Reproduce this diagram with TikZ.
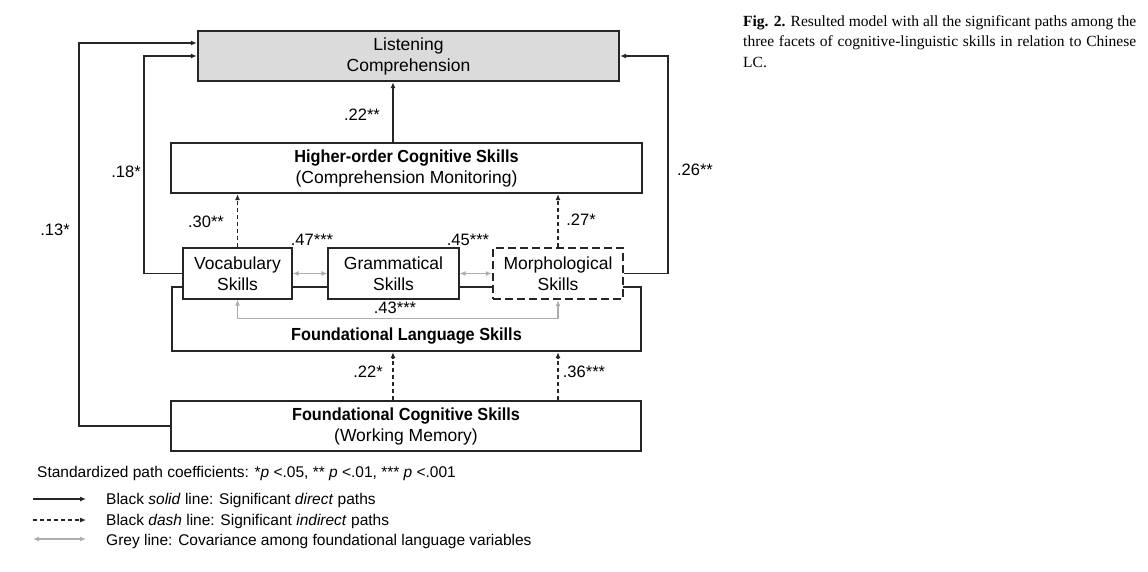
\documentclass[tikz,border=0pt]{standalone}
\usepackage{fontspec}
\setmainfont{Liberation Sans}
\newfontfamily\bnar[FakeStretch=0.93]{Liberation Sans}
\newfontfamily\capfont{Liberation Serif}
\usetikzlibrary{arrows.meta,calc}
\begin{document}
\begin{tikzpicture}[x=1pt,y=-1pt,
  bigbox/.style={draw=black!85, line width=2.4pt, fill=white, inner sep=0pt, align=center,
    font=\fontsize{17.5}{21}\selectfont},
  smallbox/.style={draw=black!85, line width=1.1pt, fill=white, inner sep=0pt, align=center,
    minimum height=51pt, font=\fontsize{17.5}{21}\selectfont},
  coef/.style={font=\fontsize{16.5}{18}\selectfont, inner sep=0pt},
  dir/.style={draw=black!85, line width=1.1pt, -{Latex[length=6pt,width=5pt]}},
  ind/.style={draw=black!85, line width=1.1pt, dash pattern=on 4pt off 3pt, -{Latex[length=6pt,width=5pt]}},
  cov/.style={draw=black!32, line width=1.5pt, {Latex[length=6pt,width=5pt]}-{Latex[length=6pt,width=5pt]}},
  legtext/.style={anchor=base west, inner sep=0pt, font=\fontsize{15.5}{18}\selectfont}
]
\useasboundingbox (0,0) rectangle (1148,572);

% boxes
\node[bigbox, fill=black!14, minimum width=421pt, minimum height=50pt] (lc) at (408.5,56) {Listening\\Comprehension};
\node[bigbox, minimum width=471pt, minimum height=50pt] (ho) at (406.5,168)
  {{\bnar\bfseries Higher-order Cognitive Skills}\\(Comprehension Monitoring)};
\node[bigbox, minimum width=469pt, minimum height=64pt] (fl) at (406.5,319) {};
\node[inner sep=0pt, font=\bnar\bfseries\fontsize{17.5}{21}\selectfont] (fltext) at (406.5,336) {Foundational Language Skills};
\node[smallbox, minimum width=109pt] (voc) at (237.5,273.5) {Vocabulary\\Skills};
\node[smallbox, minimum width=131pt] (gram) at (393.5,273.5) {Grammatical\\Skills};
\node[smallbox, line width=2.4pt, dash pattern=on 8pt off 4pt, minimum width=130pt] (morph) at (558,273.5) {Morphological\\Skills};
\node[bigbox, minimum width=470pt, minimum height=50pt] (fc) at (406,426)
  {{\bnar\bfseries Foundational Cognitive Skills}\\(Working Memory)};

% helper coordinates
\coordinate (cx) at (393,0);
\coordinate (k1) at (144,0);
\coordinate (k2) at (668,0);
\coordinate (k3) at (79,0);

% direct paths
\draw[dir] (ho.north -| cx) -- (lc.south -| cx);
\draw[dir] (voc.west) -- (voc.west -| k1) |- (lc.west);
\draw[dir] (morph.east) -- (morph.east -| k2) |- (lc.east);
\draw[dir] (fc.west) -- (fc.west -| k3) |- ($(lc.west)+(0,-13)$);

% indirect paths
\draw[ind] (voc.north) -- (voc.north |- ho.south);
\draw[ind] (morph.north) -- (morph.north |- ho.south);
\draw[ind] (fc.north -| cx) -- (fl.south -| cx);
\draw[ind] (fc.north -| morph) -- (fl.south -| morph);

% covariances
\draw[cov] (voc.east) -- (gram.west);
\draw[cov] (gram.east) -- (morph.west);
\draw[cov] (voc.south) -- ++(0,19) -| (morph.south);

% coefficients
\node[coef] (c1) at (362,115) {.22**};
\node[coef] (c2) at (126,172) {.18*};
\node[coef] (c3) at (695,170) {.26**};
\node[coef] (c4) at (55,230) {.13*};
\node[coef] (c5) at (206,222) {.30**};
\node[coef] (c6) at (581,220) {.27*};
\node[coef] (c7) at (312,240) {.47***};
\node[coef] (c8) at (468,240) {.45***};
\node[coef] (c9) at (395,308) {.43***};
\node[coef] (c10) at (368,372) {.22*};
\node[coef] (c11) at (584,372) {.36***};

% legend
\node[legtext] (lg0) at (37,477) {Standardized path coefficients: *\textit{p} <.05, ** \textit{p} <.01, *** \textit{p} <.001};
\coordinate (l1a) at (33,499); \coordinate (l1b) at (86,499);
\coordinate (l2a) at (33,520); \coordinate (l2b) at (86,520);
\coordinate (l3a) at (33,539); \coordinate (l3b) at (86,539);
\draw[dir] (l1a) -- (l1b);
\draw[ind] (l2a) -- (l2b);
\draw[cov] (l3a) -- (l3b);
\node[legtext] (lg1) at (106,504) {Black \textit{solid} line: Significant \textit{direct} paths};
\node[legtext] (lg2) at (106,525) {Black \textit{dash} line: Significant \textit{indirect} paths};
\node[legtext] (lg3) at (106,545) {Grey line: Covariance among foundational language variables};

% caption
\node[anchor=north west, inner sep=0pt, text width=393pt, align=justify,
  font=\capfont\fontsize{15.5}{20.5}\selectfont] (cap) at (743,15)
  {\textbf{Fig. 2.} Resulted model with all the significant paths among the\linebreak three facets of cognitive-linguistic skills in relation to Chinese\linebreak LC.};
\end{tikzpicture}
\end{document}
